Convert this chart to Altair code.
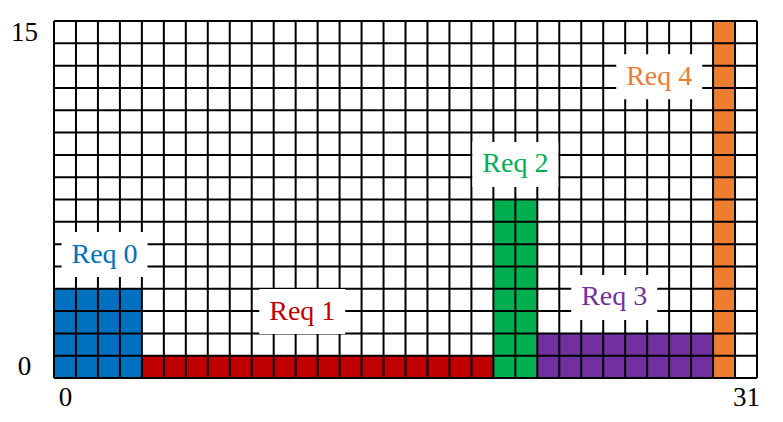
import altair as alt
import pandas as pd

# ---- data ----
requests = ["Req 0", "Req 1", "Req 2", "Req 3", "Req 4"]
col_start = [0, 4, 20, 22, 30]
col_end = [4, 20, 22, 30, 31]
row_height = [4, 1, 8, 2, 16]
colors = ["#0070C0", "#C00000", "#00B050", "#7030A0", "#ED7D31"]
label_x = [2.3, 11.3, 21.0, 25.5, 27.55]
label_y = [5.53, 2.98, 9.57, 3.61, 13.5]
x_tick_values = [0, 31]
y_tick_values = [0, 15]
n_cols = 32
n_rows = 16

bars = pd.DataFrame({
    "req": requests,
    "x0": col_start,
    "x1": col_end,
    "y0": [0] * len(requests),
    "y1": row_height,
})
labels = pd.DataFrame({"req": requests, "lx": label_x, "ly": label_y})
vlines = pd.DataFrame({"v": list(range(n_cols + 1))})
hlines = pd.DataFrame({"h": list(range(n_rows + 1))})

FONT = "Liberation Serif"
xs = alt.Scale(domain=[0, n_cols], nice=False, zero=False)
ys = alt.Scale(domain=[0, n_rows], nice=False, zero=False)
xaxis = alt.Axis(
    values=[v + 0.5 for v in x_tick_values], labelExpr="floor(datum.value)",
    title=None, grid=False, ticks=False, domain=False, labelFlush=False,
    labelOverlap=False, labelFont=FONT, labelFontSize=27, labelColor="black",
    labelPadding=6,
)
yaxis = alt.Axis(
    values=[v + 0.5 for v in y_tick_values], labelExpr="floor(datum.value)",
    title=None, grid=False, ticks=False, domain=False, labelFlush=False,
    labelOverlap=False, labelFont=FONT, labelFontSize=27, labelColor="black",
    labelAlign="center", labelPadding=30,
)
cscale = alt.Scale(domain=requests, range=colors)

bar_layer = alt.Chart(bars).mark_rect().encode(
    x=alt.X("x0:Q", scale=xs, axis=xaxis),
    x2="x1:Q",
    y=alt.Y("y0:Q", scale=ys, axis=yaxis),
    y2="y1:Q",
    color=alt.Color("req:N", scale=cscale, legend=None),
)

vgrid = alt.Chart(vlines).mark_rule(color="black", strokeWidth=2).encode(
    x=alt.X("v:Q", scale=xs, axis=xaxis),
    y=alt.Y(datum=0, scale=ys, axis=yaxis),
    y2=alt.Y2(datum=n_rows),
)
hgrid = alt.Chart(hlines).mark_rule(color="black", strokeWidth=2).encode(
    y=alt.Y("h:Q", scale=ys, axis=yaxis),
    x=alt.X(datum=0, scale=xs, axis=xaxis),
    x2=alt.X2(datum=n_cols),
)

box_shape = "M-1,-0.523L1,-0.523L1,0.523L-1,0.523Z"
boxes = alt.Chart(labels).mark_point(
    shape=box_shape, size=86 * 86, filled=True, fill="white", opacity=1, strokeWidth=0
).encode(
    x=alt.X("lx:Q", scale=xs, axis=xaxis),
    y=alt.Y("ly:Q", scale=ys, axis=yaxis),
)

texts = alt.Chart(labels).mark_text(
    font=FONT, fontSize=28, align="center", baseline="middle"
).encode(
    x=alt.X("lx:Q", scale=xs, axis=xaxis),
    y=alt.Y("ly:Q", scale=ys, axis=yaxis),
    text="req:N",
    color=alt.Color("req:N", scale=cscale, legend=None),
)

chart = alt.layer(bar_layer, vgrid, hgrid, boxes, texts).properties(
    width=703,
    height=357,
    autosize=alt.AutoSizeParams(type="none"),
    padding={"left": 54, "top": 21, "right": 26, "bottom": 44},
    background="white",
).configure_view(stroke=None)

chart.save("out.html", embed_options={"renderer": "svg", "actions": False})
